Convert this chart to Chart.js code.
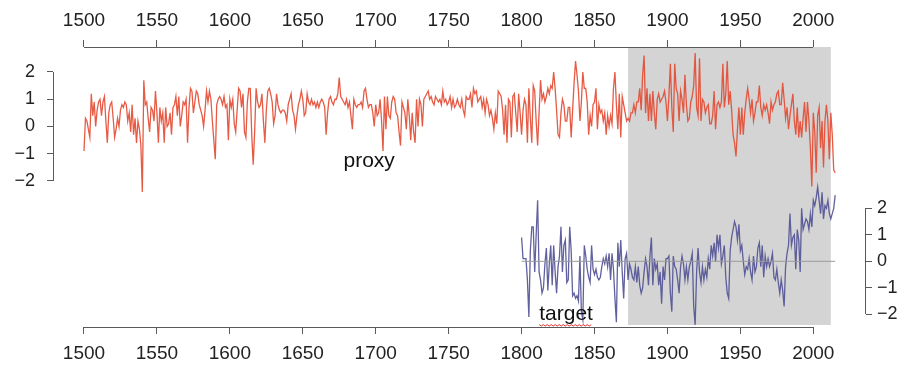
<!DOCTYPE html>
<html>
<head>
<meta charset="utf-8">
<script src="https://cdn.jsdelivr.net/npm/chart.js@4.4.1/dist/chart.umd.min.js"></script>
<style>
  html, body { margin: 0; padding: 0; background: #fff; }
  #wrap { width: 904px; height: 370px; }
</style>
</head>
<body>
<div id="wrap"><canvas id="chart" width="904" height="370"></canvas></div>
<script>
// --- data ---
// proxy: one value per year, 1500 to 2015
const proxyStart = 1500;
const proxyValues = [
  -0.9, 0.3, 0.2, -0.1, -0.4, 1.2, 0.4, 0.9, 0.0, 0.6,   // 1500s
  0.9, 1.0, 0.4, 0.9, 1.1, 0.2, -0.6, 0.5, 0.8, 0.9,     // 1510s
  0.3, -0.4, -0.1, 0.3, 0.0, 0.6, 0.8, 0.7, 0.9, 0.8,    // 1520s
  0.2, 0.5, -0.2, 0.8, -0.3, 0.3, -0.6, 0.2, -0.1, -0.7, // 1530s
  -2.4, 1.7, 0.8, 0.9, 0.3, -0.2, 0.7, 0.6, 0.2, 1.3,    // 1540s
  0.5, -0.6, 0.7, 0.2, 0.5, -0.6, 0.7, 0.0, 0.1, 0.5,    // 1550s
  -0.3, 0.7, 0.8, 1.1, 0.4, 1.1, 0.0, 0.4, 0.9, 0.8,     // 1560s
  1.0, -0.6, 0.7, 1.4, 1.3, 0.5, 0.9, 1.3, 1.2, 0.8,     // 1570s
  0.6, 0.4, 0.0, 0.6, 1.3, 0.9, 1.3, 1.0, 0.2, -0.5,     // 1580s
  -1.2, 0.8, 1.0, 1.1, 1.0, 0.8, 1.1, 0.7, 0.8, -0.5,    // 1590s
  1.0, 0.7, 1.0, 0.1, -0.2, 0.6, 1.4, 1.3, 0.7, 1.2,     // 1600s
  -0.2, -0.4, 0.9, 1.4, 1.4, -0.3, -1.4, -0.2, 1.4, 0.9, // 1610s
  0.7, 0.8, 1.2, 0.2, -0.6, 0.6, 1.3, 1.4, 1.2, 0.9,     // 1620s
  0.1, 0.4, 1.2, 0.8, 0.6, 0.5, 0.6, 0.6, 0.5, 0.2,      // 1630s
  0.8, 1.0, 1.2, 0.6, 0.4, -0.1, 0.4, 0.8, 1.0, 1.3,     // 1640s
  1.0, 0.4, 0.5, 1.2, 0.9, 0.8, 1.0, 0.8, 0.9, 0.7,      // 1650s
  0.9, 0.7, 0.9, 1.0, 0.9, 0.7, -0.3, 0.5, 1.0, 1.1,     // 1660s
  0.9, 0.8, 1.0, 1.0, 1.2, 1.8, 1.1, 1.0, 0.9, 0.8,      // 1670s
  1.0, 0.7, 0.9, 0.4, -0.1, 1.0, 0.8, 0.7, 0.8, 0.8,     // 1680s
  0.9, 0.7, 1.3, 1.4, 1.0, 0.7, 0.8, 0.8, 0.5, 0.0,      // 1690s
  0.8, 0.4, 0.5, 1.0, 0.2, -0.9, 1.1, -0.1, 1.1, 0.4,    // 1700s
  0.3, 0.9, 1.1, 1.0, 0.5, 0.4, -0.2, -0.7, 0.9, 0.7,    // 1710s
  0.5, -0.1, 1.0, 0.4, -0.5, 0.5, -0.2, -0.6, 1.0, 0.0,  // 1720s
  1.0, 0.8, 0.0, 1.0, 1.1, 1.2, 1.3, 1.0, 1.1, 0.9,      // 1730s
  0.8, 1.1, 1.0, 0.9, 1.0, 0.8, 1.3, 0.9, 1.0, 0.8,      // 1740s
  0.9, 1.1, 0.7, 1.0, 0.7, 0.8, 1.0, 0.8, 0.7, 1.0,      // 1750s
  0.6, 0.4, 1.1, 1.0, 1.0, 1.2, 0.7, 1.4, 1.2, 1.3,      // 1760s
  0.9, 1.0, 1.1, 0.7, 1.0, 0.5, 1.0, 0.8, 0.4, 0.6,      // 1770s
  0.3, -0.1, 0.5, 0.1, 1.3, 1.2, 1.1, 0.6, -0.3, 0.8,    // 1780s
  -0.6, 1.0, 0.9, -0.4, 1.1, 1.2, 0.5, -0.2, 1.2, 0.5,   // 1790s
  -0.3, 0.6, 1.0, 0.8, -0.6, 1.4, 0.3, -0.6, 1.5, 1.3,   // 1800s
  0.2, -0.7, 0.5, 1.7, 1.0, 1.2, 0.9, 1.1, 1.4, 1.2,     // 1810s
  1.5, 1.4, 2.0, 1.4, 0.6, -0.3, -0.4, 0.5, 1.0, 0.8,    // 1820s
  0.2, 0.2, 0.7, 0.7, -0.4, 0.6, 1.6, 2.4, 1.9, 1.3,     // 1830s
  0.2, 0.9, 2.0, 1.4, 1.4, 0.9, -0.3, 0.4, 0.0, 0.8,     // 1840s
  0.9, 1.4, -0.1, 0.8, 0.5, 0.6, 0.2, 0.5, -0.3, 0.4,    // 1850s
  0.0, 0.4, 0.1, 1.4, 2.0, 0.8, -0.1, 1.2, -0.4, 1.1,    // 1860s
  0.8, 0.5, 0.2, 0.3, 0.2, 0.5, 0.5, 0.8, 0.5, 0.9,      // 1870s
  0.9, 1.4, 0.6, 1.9, 2.6, 0.5, 1.4, 0.2, 1.2, 0.2,      // 1880s
  1.3, 0.5, -0.1, 1.0, 1.2, 0.9, 1.0, 1.1, 1.3, 0.9,     // 1890s
  0.2, 1.1, 2.3, 0.7, -0.2, 2.3, 1.4, 1.2, 0.2, 1.3,     // 1900s
  1.0, 0.5, 1.9, 0.8, 0.2, 0.3, 0.9, 1.1, 1.5, 2.7,      // 1910s
  0.7, 0.4, 2.5, 0.2, 1.0, 0.9, 0.5, 0.7, 0.8, 0.1,      // 1920s
  0.1, 0.4, 1.3, -0.1, 0.8, 0.9, 0.7, 0.9, 2.3, 0.7,     // 1930s
  1.2, 2.4, 0.8, 1.3, 0.6, -0.3, -0.6, -1.1, -0.1, 0.7,  // 1940s
  -0.3, 0.7, -0.3, 0.5, 1.0, 1.4, 1.0, 0.5, 1.0, 0.2,    // 1950s
  0.5, 0.9, 0.9, 1.5, 0.7, 0.4, 0.8, 0.6, 0.8, 0.5,      // 1960s
  0.1, 0.9, 0.6, 0.8, 0.9, 1.2, 1.3, 0.8, 0.8, 1.6,      // 1970s
  1.0, 0.3, 0.7, -0.1, 0.4, 0.8, 1.2, 0.2, -0.3, 0.7,    // 1980s
  -0.4, 0.2, -0.4, 0.3, 0.9, -0.2, 0.9, 0.2, -0.8, -2.2, // 1990s
  0.5, -0.2, -1.7, 0.4, 0.7, -0.8, 0.2, -1.5, 0.2, 0.8,  // 2000s
  0.2, -1.2, 0.5, -0.3, -1.6, -1.7                       // 2010-2015
];

// target: one value per year, 1800 to 2015
const targetStart = 1800;
const targetValues = [
  0.9, 0.1, 0.1, 0.1, -0.7, -2.1, 0.4, 1.3, 1.3, -0.4,     // 1800s
  1.0, 2.3, -0.4, -0.7, -1.2, -1.0, -0.1, 0.5, -1.1, -0.1, // 1810s
  0.6, -0.9, 0.6, -0.4, -1.2, -0.2, 0.2, 1.3, -0.4, 0.6,   // 1820s
  0.8, -0.8, -0.7, 1.3, 0.4, -1.3, -1.2, -1.4, -1.3, -1.5, // 1830s
  0.2, -1.9, -2.2, 0.6, 0.2, -0.3, -0.6, -0.8, 0.6, -0.3,  // 1840s
  -0.5, -0.3, -0.6, -0.7, -0.6, -0.2, 0.1, -0.1, 0.2, -0.2,// 1850s
  0.3, -0.7, 0.3, -0.3, -1.4, -2.3, 0.7, -0.2, 0.8, -0.4,  // 1860s
  -1.4, 0.1, 0.3, -0.7, -0.1, -0.3, -0.6, -0.7, -0.2, -0.8,// 1870s
  -0.2, -0.9, -1.2, -1.0, -0.4, 0.1, -0.2, -0.9, 0.2, 0.9, // 1880s
  -0.9, 0.1, -0.3, -0.1, -0.9, -0.4, -1.6, -0.2, -0.7, 0.1,// 1890s
  0.1, 0.2, -1.2, -1.9, 0.2, -0.2, -0.3, -0.7, -1.2, -0.2, // 1900s
  0.2, -0.1, -0.7, -0.2, -0.7, -0.2, 0.0, 0.3, -1.7, -2.4, // 1910s
  -0.4, 0.5, -0.4, -0.8, -0.2, -0.7, -0.3, -0.6, 0.1, -0.3,// 1920s
  0.6, 0.2, 0.7, 0.0, 1.0, 0.5, 1.0, -0.1, 0.2, 0.6,       // 1930s
  -0.6, -1.2, -1.4, 0.4, 0.9, 1.2, 1.5, 1.3, 0.8, 1.4,     // 1940s
  0.4, 0.6, 0.0, -0.5, -0.2, -0.3, 0.1, -0.4, -0.7, 0.2,   // 1950s
  -0.4, -0.2, 0.5, 0.7, -0.2, 0.6, -0.6, 0.2, -0.2, 0.1,   // 1960s
  -0.2, 0.0, 0.3, -0.6, -0.7, -0.3, -0.8, -1.2, -0.7, -1.1,// 1970s
  -1.7, -0.2, 0.3, 0.6, 1.8, 0.6, 0.9, 1.0, -0.3, 1.2,     // 1980s
  0.8, -0.4, 2.0, 1.2, 1.4, 1.6, 1.5, 1.2, 1.8, 1.3,       // 1990s
  2.3, 2.1, 2.4, 2.8, 2.3, 1.8, 2.6, 1.6, 2.1, 2.0,        // 2000s
  2.3, 1.8, 1.6, 1.8, 2.0, 2.5                             // 2010-2015
];

const yearTicks = [1500, 1550, 1600, 1650, 1700, 1750, 1800, 1850, 1900, 1950, 2000];
const valueTicks = [-2, -1, 0, 1, 2];
const shadedYears = [1873, 2012];       // calibration window
const zeroLineYears = [1800, 2015];     // reference line for target

// --- build datasets ---
const proxyPoints = proxyValues.map((v, i) => ({ x: proxyStart + i, y: v }));
const targetPoints = targetValues.map((v, i) => ({ x: targetStart + i, y: v }));
const zeroPoints = zeroLineYears.map(yr => ({ x: yr, y: 0 }));

const FONT = "'Liberation Sans', Arial, Helvetica, sans-serif";
const AXIS_COLOR = '#5a5a5a';
const TEXT_COLOR = '#222';

const fmt = v => (v < 0 ? '\u2212' + Math.abs(v) : String(v));

// R style axes: the axis line only runs from the first to the last tick
const rStyle = {
  id: 'rStyle',
  beforeDatasetsDraw(chart) {
    const { ctx, chartArea, scales } = chart;
    const x0 = scales.xTop.getPixelForValue(shadedYears[0]);
    const x1 = scales.xTop.getPixelForValue(shadedYears[1]);
    ctx.save();
    ctx.fillStyle = '#d4d4d4';
    ctx.fillRect(x0, chartArea.top, x1 - x0, chartArea.bottom - chartArea.top - 2);
    ctx.restore();
  },
  afterDatasetsDraw(chart) {
    const { ctx, chartArea, scales } = chart;
    ctx.save();
    ctx.strokeStyle = AXIS_COLOR;
    ctx.lineWidth = 1;
    ctx.beginPath();
    const a = Math.round(scales.xTop.getPixelForValue(yearTicks[0]));
    const b = Math.round(scales.xTop.getPixelForValue(yearTicks[yearTicks.length - 1]));
    ctx.moveTo(a, chartArea.top + 0.5);
    ctx.lineTo(b, chartArea.top + 0.5);
    ctx.moveTo(a, chartArea.bottom + 0.5);
    ctx.lineTo(b, chartArea.bottom + 0.5);
    const yl = scales.yProxy;
    ctx.moveTo(chartArea.left + 0.5, Math.round(yl.getPixelForValue(2)));
    ctx.lineTo(chartArea.left + 0.5, Math.round(yl.getPixelForValue(-2)));
    const yr = scales.yTarget;
    ctx.moveTo(chartArea.right - 0.5, Math.round(yr.getPixelForValue(2)));
    ctx.lineTo(chartArea.right - 0.5, Math.round(yr.getPixelForValue(-2)));
    ctx.stroke();

    // series labels
    ctx.fillStyle = '#111';
    ctx.font = '21px ' + FONT;
    ctx.textAlign = 'center';
    ctx.textBaseline = 'alphabetic';
    ctx.fillText('proxy', scales.xTop.getPixelForValue(1695.5), yl.getPixelForValue(-1.48));
    const tx = scales.xTop.getPixelForValue(1830.5);
    const ty = yr.getPixelForValue(-2.2);
    ctx.fillText('target', tx, ty);
    // spell-check squiggle under "target"
    const w = ctx.measureText('target').width;
    ctx.strokeStyle = '#e0302a';
    ctx.lineWidth = 1;
    ctx.beginPath();
    for (let px = 0; px <= w; px += 2) {
      const yy = ty + 5 + ((px / 2) % 2 === 0 ? 0 : 1.5);
      if (px === 0) ctx.moveTo(tx - w / 2 + px, yy);
      else ctx.lineTo(tx - w / 2 + px, yy);
    }
    ctx.stroke();
    ctx.restore();
  }
};

const xAxis = (position, height) => ({
  type: 'linear',
  position,
  min: 1478.75,
  max: 2036.13,
  afterBuildTicks: s => { s.ticks = yearTicks.map(v => ({ value: v })); },
  afterFit: s => { s.height = height; },
  grid: { drawOnChartArea: false, drawTicks: true, tickLength: 7, color: AXIS_COLOR },
  border: { display: false },
  ticks: {
    color: TEXT_COLOR, font: { family: FONT, size: 19 }, padding: 8,
    maxRotation: 0, autoSkip: false, callback: v => String(v)
  }
});

const yAxis = (position, min, max, width, padding) => ({
  type: 'linear',
  position,
  min, max,
  afterBuildTicks: s => { s.ticks = valueTicks.map(v => ({ value: v })); },
  afterFit: s => { s.width = width; },
  grid: { drawOnChartArea: false, drawTicks: true, tickLength: 6, color: AXIS_COLOR },
  border: { display: false },
  ticks: { color: TEXT_COLOR, font: { family: FONT, size: 18 }, padding, callback: fmt, autoSkip: false }
});

new Chart(document.getElementById('chart'), {
  type: 'line',
  data: {
    datasets: [
      {
        label: 'zero',
        data: zeroPoints,
        xAxisID: 'xTop', yAxisID: 'yTarget',
        borderColor: '#9a9a9a', borderWidth: 1, pointRadius: 0
      },
      {
        label: 'proxy',
        data: proxyPoints,
        xAxisID: 'xTop', yAxisID: 'yProxy',
        borderColor: 'rgba(228,72,48,0.9)', borderWidth: 1.3, pointRadius: 0, tension: 0
      },
      {
        label: 'target',
        data: targetPoints,
        xAxisID: 'xTop', yAxisID: 'yTarget',
        borderColor: 'rgba(84,84,150,0.92)', borderWidth: 1.3, pointRadius: 0, tension: 0
      }
    ]
  },
  options: {
    responsive: false,
    animation: false,
    devicePixelRatio: 1,
    layout: { padding: 0 },
    plugins: { legend: { display: false }, tooltip: { enabled: false } },
    scales: {
      xTop: xAxis('top', 47),
      xBottom: xAxis('bottom', 43),
      yProxy: yAxis('left', -7.358, 2.917, 53, 12),
      yTarget: yAxis('right', -2.479, 8.087, 38, 5)
    }
  },
  plugins: [rStyle]
});
</script>
</body>
</html>
